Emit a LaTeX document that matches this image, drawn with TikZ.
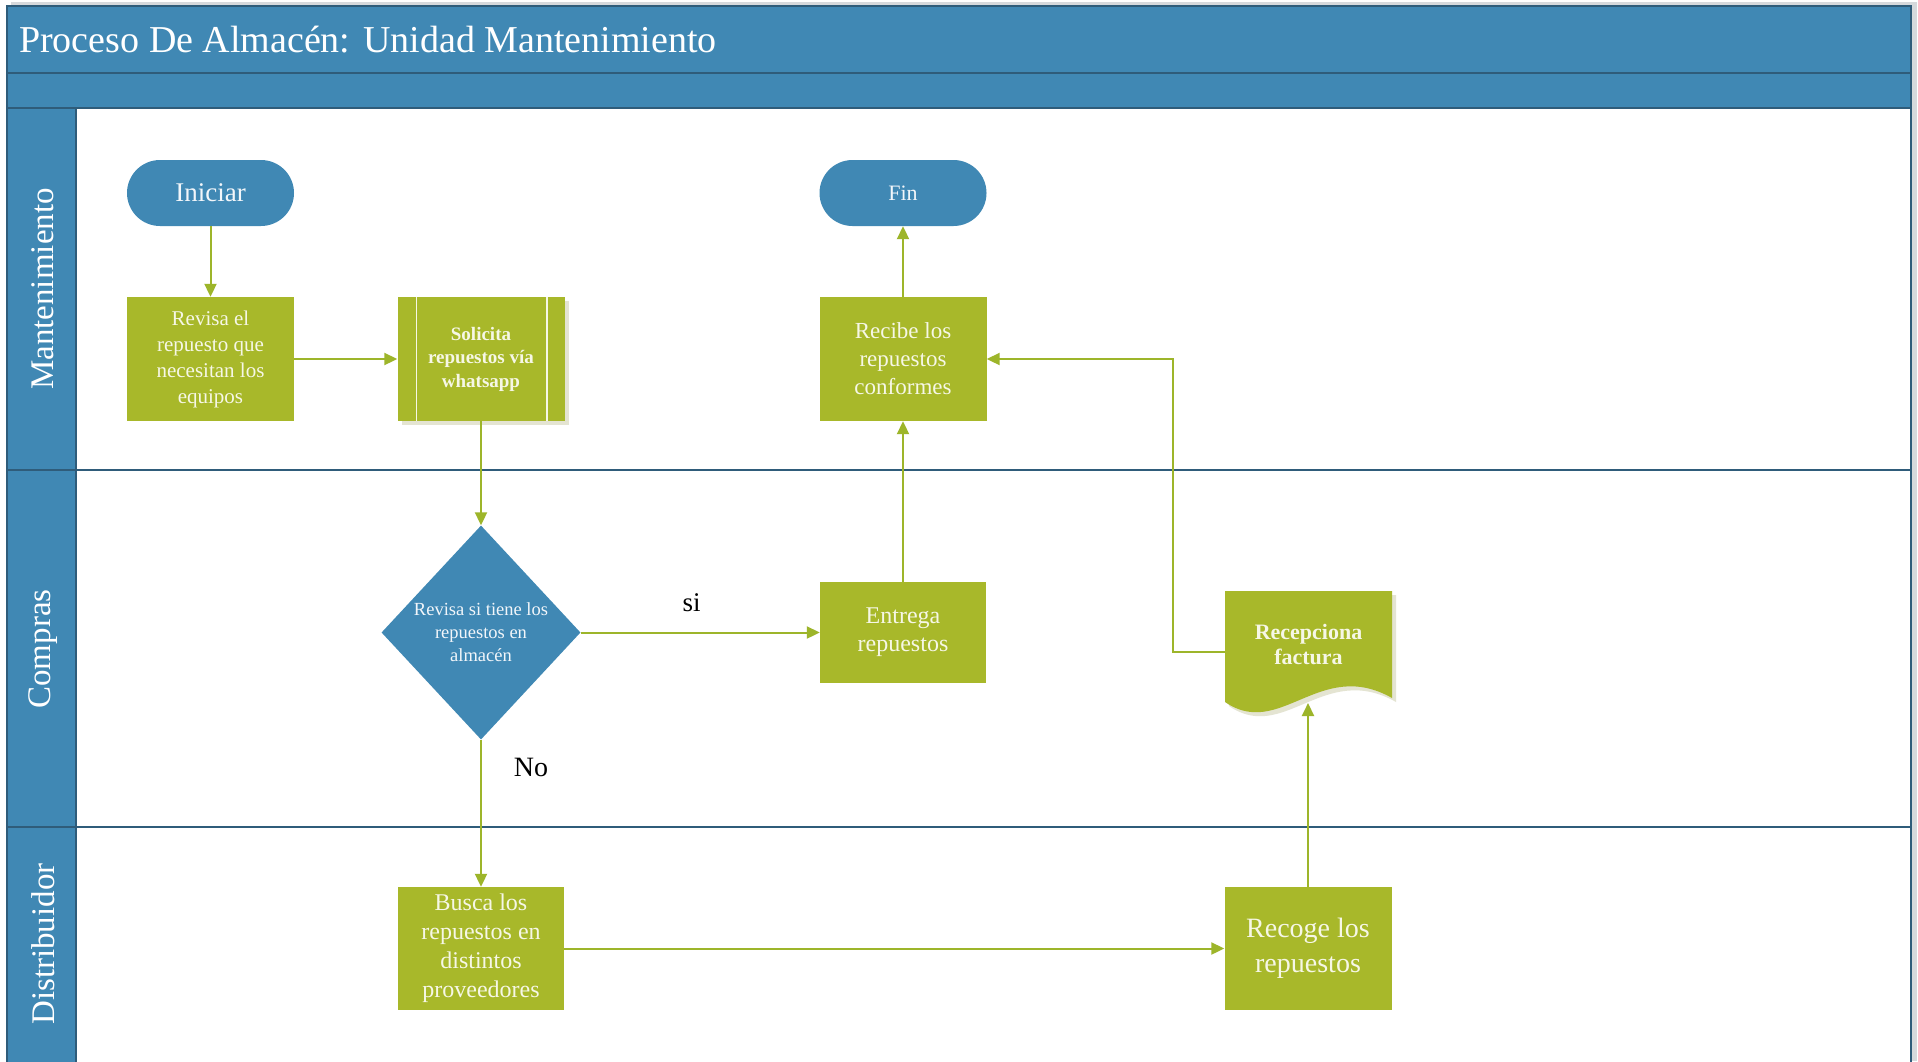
\documentclass[tikz,border=0pt]{standalone}
\usepackage{fontspec}
\setmainfont{Liberation Serif}
\usetikzlibrary{arrows.meta,calc,shapes.geometric,shadows}

\definecolor{lanebl}{HTML}{4088B4}
\definecolor{laneln}{HTML}{2F5C7A}
\definecolor{actgr}{HTML}{A8B82A}
\definecolor{flowgr}{HTML}{9DB52A}
\definecolor{boxtxt}{HTML}{F6F7E6}
\definecolor{termtxt}{HTML}{F2F6FA}
\definecolor{shadecol}{HTML}{E4E4D2}
\definecolor{framesh}{HTML}{D6D9DC}

\newcommand\fsz[2]{\fontsize{#1}{#2}\selectfont}

\tikzset{
  act/.style={rectangle, fill=actgr, text=boxtxt, align=center, inner sep=0pt,
              minimum width=167pt},
  term/.style={rectangle, rounded corners=33pt, fill=lanebl, text=termtxt,
               minimum width=167pt, minimum height=66pt, inner sep=0pt},
  decision/.style={diamond, fill=lanebl, text=termtxt, align=center, inner sep=0pt,
                   shape aspect=0.93, minimum width=199pt, minimum height=214pt},
  flow/.style={draw=flowgr, line width=2pt, -{Triangle[length=13pt,width=12pt]}},
  laneline/.style={draw=laneln, line width=1.6pt},
  lanelabel/.style={rotate=90, text=white, font=\fsz{33}{38}},
  flowlabel/.style={text=black, inner sep=0pt},
  boxshadow/.style={drop shadow={shadow xshift=4pt, shadow yshift=-4pt,
                    fill=shadecol, opacity=1}},
}

\begin{document}
\begin{tikzpicture}[x=1pt, y=-1pt]
\useasboundingbox (0,0) rectangle (1918,1061);

% frame, title bar and swimlane headers
\fill[framesh] (11,2) rectangle (1917,1061);
\fill[white] (7,6) rectangle (1911,1070);
\fill[lanebl] (7,6) rectangle (1911,108);
\fill[lanebl] (7,108) rectangle (76,1070);
\draw[laneline] (7,6) rectangle (1911,1070);
\draw[laneline] (7,73) -- (1911,73);
\draw[laneline] (7,108) -- (1911,108);
\draw[laneline] (76,108) -- (76,1070);
\draw[laneline] (7,470) -- (1911,470);
\draw[laneline] (7,827) -- (1911,827);

\node[anchor=base west, text=white, font=\fsz{38}{44}, inner sep=0pt] (title) at (19,52)
  {Proceso De Almacén: Unidad Mantenimiento};

\node[lanelabel] (lmant) at (43,289) {Mantenimiento};
\node[lanelabel] (lcomp) at (43,649) {Compras};
\node[lanelabel] (ldist) at (43,944) {Distribuidor};

% document shape behind "Recepciona factura"
\fill[shadecol] (1229,595) -- (1396,595) -- (1396,702)
  .. controls (1324,661) and (1284,744) .. (1229,706) -- cycle;
\fill[actgr] (1225,591) -- (1392,591) -- (1392,698)
  .. controls (1320,657) and (1280,740) .. (1225,702) -- cycle;

% nodes
\node[term, font=\fsz{27}{32}] (start) at (210.5,193) {Iniciar};
\node[term, font=\fsz{22}{26}] (fin) at (903,193) {Fin};

\node[act, minimum height=124pt, font=\fsz{21}{26}] (rev) at (210.5,359)
  {Revisa el\\repuesto que\\necesitan los\\equipos};
\node[act, boxshadow, minimum height=124pt, font=\bfseries\fsz{19}{23.5}] (sol) at (481,359)
  {Solicita\\repuestos vía\\whatsapp};
\node[act, minimum height=124pt, font=\fsz{23}{28}] (rcv) at (903,359)
  {Recibe los\\repuestos\\conformes};

\node[decision, font=\fsz{18.5}{23}] (dec) at (481,632.5)
  {Revisa si tiene los\\repuestos en\\almacén};
\node[act, minimum width=166pt, minimum height=101pt, font=\fsz{24}{28}] (ent) at (903,632.5)
  {Entrega\\repuestos};
\node[rectangle, align=center, text=boxtxt, inner sep=0pt, minimum width=167pt,
      minimum height=107pt, font=\bfseries\fsz{22}{25}] (rcp) at (1308.5,644.5)
  {Recepciona\\factura};

\node[act, minimum width=166pt, minimum height=123pt, font=\fsz{24}{29}] (bus) at (481,948.5)
  {Busca los\\repuestos en\\distintos\\proveedores};
\node[act, minimum height=123pt, font=\fsz{28}{35}] (rec) at (1308,948.5)
  {Recoge los\\repuestos};

% inner bars of the predefined-process box
\draw[boxtxt, line width=1.6pt] ([xshift=19pt]sol.north west) -- ([xshift=19pt]sol.south west);
\draw[boxtxt, line width=1.6pt] ([xshift=-18pt]sol.north east) -- ([xshift=-18pt]sol.south east);

% helper points for connectors
\coordinate (rcpbot) at (1308,703);
\coordinate (turn) at (1173,500);

% connectors
\draw[flow] (start) -- (rev);
\draw[flow] (rev) -- (sol);
\draw[flow] (sol) -- (dec);
\draw[flow] (dec) -- node (lblsi) [flowlabel, pos=0.464, yshift=30pt, font=\fsz{27}{30}] {si} (ent);
\draw[flow] (dec) -- node (lblno) [flowlabel, pos=0.19, xshift=50pt, font=\fsz{28}{30}] {No} (bus);
\draw[flow] (bus) -- (rec);
\draw[flow] (rec) -- (rcpbot);
\draw[flow] ($(rcp.west)+(0,7)$) -| (turn) |- (rcv.east);
\draw[flow] (ent) -- (rcv);
\draw[flow] (rcv) -- (fin);
\end{tikzpicture}
\end{document}
